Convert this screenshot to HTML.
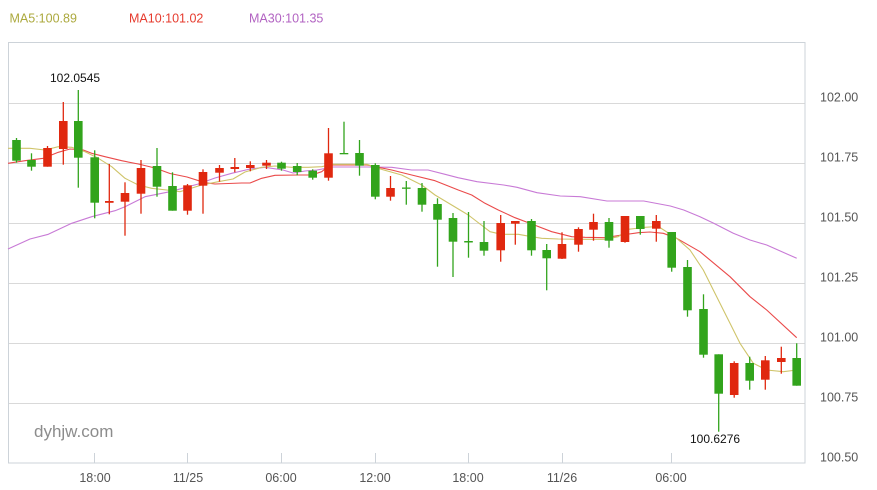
<!DOCTYPE html>
<html><head><meta charset="utf-8"><style>
html,body{margin:0;padding:0;background:#fff;}
svg{display:block;}
text{font-family:"Liberation Sans",sans-serif;}
</style></head><body>
<svg width="877" height="490" viewBox="0 0 877 490" xmlns="http://www.w3.org/2000/svg">
<rect width="877" height="490" fill="#fff"/>
<!-- legend -->
<text x="9.5" y="22.5" font-size="12.5" fill="#aca93e">MA5:100.89</text>
<text x="129" y="22.5" font-size="12.5" fill="#e63b2e">MA10:101.02</text>
<text x="249" y="22.5" font-size="12.5" fill="#b263c2">MA30:101.35</text>
<!-- grid -->
<g stroke="#d9d9d9" stroke-width="1">
<line x1="8.5" y1="103.5" x2="805" y2="103.5"/>
<line x1="8.5" y1="163.5" x2="805" y2="163.5"/>
<line x1="8.5" y1="223.5" x2="805" y2="223.5"/>
<line x1="8.5" y1="283.5" x2="805" y2="283.5"/>
<line x1="8.5" y1="343.5" x2="805" y2="343.5"/>
<line x1="8.5" y1="403.5" x2="805" y2="403.5"/>
</g>
<!-- frame -->
<rect x="8.5" y="42.5" width="796.5" height="420.5" fill="none" stroke="#cdd3d9" stroke-width="1"/>
<!-- x ticks -->
<g stroke="#cdd3d9" stroke-width="1">
<line x1="94.5" y1="453" x2="94.5" y2="463"/>
<line x1="187.5" y1="453" x2="187.5" y2="463"/>
<line x1="281.5" y1="453" x2="281.5" y2="463"/>
<line x1="375.5" y1="453" x2="375.5" y2="463"/>
<line x1="468.5" y1="453" x2="468.5" y2="463"/>
<line x1="562.5" y1="453" x2="562.5" y2="463"/>
<line x1="671.5" y1="453" x2="671.5" y2="463"/>
</g>
<!-- y labels -->
<g font-size="12.5" fill="#555">
<text x="820" y="101.5">102.00</text>
<text x="820" y="161.5">101.75</text>
<text x="820" y="221.5">101.50</text>
<text x="820" y="281.5">101.25</text>
<text x="820" y="341.5">101.00</text>
<text x="820" y="401.5">100.75</text>
<text x="820" y="461.5">100.50</text>
</g>
<!-- x labels -->
<g font-size="12.5" fill="#555" text-anchor="middle">
<text x="95" y="482">18:00</text>
<text x="188" y="482">11/25</text>
<text x="281" y="482">06:00</text>
<text x="375" y="482">12:00</text>
<text x="468" y="482">18:00</text>
<text x="562" y="482">11/26</text>
<text x="671" y="482">06:00</text>
</g>
<!-- watermark -->
<text x="34" y="437" font-size="17" fill="#8c8c8c">dyhjw.com</text>
<!-- MA lines -->
<polyline fill="none" stroke="#c87ad6" stroke-width="1.1" stroke-linejoin="round" points="8,249 30,239 48.3,234.3 71.7,223.3 91.7,216.7 115,210.7 125,206.7 145,196.7 170,191.7 198.3,184 215,178 231.7,173.3 250,169 265,167.3 283,170 293,173 305,171 317,170 333,167 367,167 391.7,167.3 411.7,170 428,170 445,174.3 458,177.7 477,181.7 503.7,185 517,187.3 537,192.7 560.3,196 580.3,196.7 607,201 643.7,201 670.3,206 683.7,210 700,216.7 713.7,223.3 733.3,233.3 750,240 766.7,245 796.7,258.3"/>
<polyline fill="none" stroke="#ea4a4a" stroke-width="1.1" stroke-linejoin="round" points="8,163.3 25,160.7 43.3,158.3 58.3,152.3 70,149 83.3,150 91.7,153.3 105,156.7 121.7,160.7 138.3,164 155,168 170,173.5 187,177 205,182.7 215,184 241.7,183 250,183 261.7,178.3 275,175.3 298,175 311.7,175 321.7,171.7 330,165 367,165 391.7,170 411.7,175 435,180.7 458.3,190 471.7,195 485,203.3 498.3,210 515,217.7 531.7,224 551.7,231.7 571.7,236.7 585,237.3 605,237.7 621.7,235 638.3,232.7 650,232 663.3,233.3 676.7,238.3 700,251.7 730,276.7 750,296.7 766.7,310 796.7,337.7"/>
<polyline fill="none" stroke="#cfc46a" stroke-width="1.1" stroke-linejoin="round" points="8,148.3 30,148.3 45,150 58.3,146.7 71.7,147.3 85,151.7 98.3,158.3 111.7,166.7 125,178.3 138.3,185 151.7,188.3 166.7,190 180,191.7 201.7,185 218.3,181.7 233,179 245,172 261.7,167.3 275,166 291.7,167.3 308.3,167.3 321.7,166.7 333,164.3 367,164.3 378,168.3 401.7,175 421.7,185 435,195 451.7,205 468.3,215 490,231.7 501.7,234.3 518.3,234.3 531.7,236.7 541.7,238.3 558.3,239 585,239.3 605,239.3 618.3,236.7 628.3,229.3 645,227.3 658.3,226.5 676.7,238.3 690,250 703.3,270 716.7,296.7 730,323.3 740,343.3 753.3,363.3 766.7,370 783.3,371.7 796.7,370"/>
<!-- candles -->
<g id="candles">
<!-- template: wick line + body rect -->
<g fill="#32a41c" stroke="#32a41c">
<line x1="16.5" y1="138" x2="16.5" y2="162.7" stroke-width="1.3"/><rect x="12.2" y="140" width="8.6" height="20.7" stroke="none"/>
<line x1="31.5" y1="153.3" x2="31.5" y2="170.7" stroke-width="1.3"/><rect x="27.2" y="160" width="8.6" height="6.7" stroke="none"/>
<line x1="78.3" y1="90" x2="78.3" y2="187.7" stroke-width="1.3"/><rect x="74" y="121" width="8.6" height="36.7" stroke="none"/>
<line x1="94.7" y1="150.3" x2="94.7" y2="218.3" stroke-width="1.3"/><rect x="90.4" y="157.3" width="8.6" height="45.4" stroke="none"/>
<line x1="157" y1="148" x2="157" y2="196.7" stroke-width="1.3"/><rect x="152.7" y="166" width="8.6" height="20.7" stroke="none"/>
<line x1="172.5" y1="172.3" x2="172.5" y2="210.7" stroke-width="1.3"/><rect x="168.2" y="186" width="8.6" height="24.7" stroke="none"/>
<line x1="281.5" y1="161.7" x2="281.5" y2="170.7" stroke-width="1.3"/><rect x="277.2" y="162.7" width="8.6" height="6" stroke="none"/>
<line x1="297.2" y1="163" x2="297.2" y2="175.3" stroke-width="1.3"/><rect x="292.9" y="166" width="8.6" height="6" stroke="none"/>
<line x1="312.7" y1="169.3" x2="312.7" y2="179.7" stroke-width="1.3"/><rect x="308.4" y="170.7" width="8.6" height="7" stroke="none"/>
<line x1="344" y1="121.7" x2="344" y2="154" stroke-width="1.3"/><rect x="339.7" y="153" width="8.6" height="1.3" stroke="none"/>
<line x1="359.5" y1="140" x2="359.5" y2="175.7" stroke-width="1.3"/><rect x="355.2" y="153" width="8.6" height="12.7" stroke="none"/>
<line x1="375.3" y1="163.3" x2="375.3" y2="199.3" stroke-width="1.3"/><rect x="371" y="165" width="8.6" height="31.7" stroke="none"/>
<line x1="406.3" y1="181" x2="406.3" y2="204.7" stroke-width="1.3"/><rect x="402" y="187.5" width="8.6" height="1.3" stroke="none"/>
<line x1="422" y1="183" x2="422" y2="211.7" stroke-width="1.3"/><rect x="417.7" y="188" width="8.6" height="16.7" stroke="none"/>
<line x1="437.5" y1="198.3" x2="437.5" y2="266.7" stroke-width="1.3"/><rect x="433.2" y="204" width="8.6" height="15.7" stroke="none"/>
<line x1="453" y1="213" x2="453" y2="277" stroke-width="1.3"/><rect x="448.7" y="218" width="8.6" height="23.7" stroke="none"/>
<line x1="468.5" y1="212" x2="468.5" y2="257.7" stroke-width="1.3"/><rect x="464.2" y="241" width="8.6" height="1.5" stroke="none"/>
<line x1="484" y1="221" x2="484" y2="255.7" stroke-width="1.3"/><rect x="479.7" y="242" width="8.6" height="8.7" stroke="none"/>
<line x1="531.5" y1="219" x2="531.5" y2="255.7" stroke-width="1.3"/><rect x="527.2" y="221" width="8.6" height="29.3" stroke="none"/>
<line x1="546.7" y1="244" x2="546.7" y2="290.3" stroke-width="1.3"/><rect x="542.4" y="250" width="8.6" height="8.3" stroke="none"/>
<line x1="609" y1="218" x2="609" y2="247.7" stroke-width="1.3"/><rect x="604.7" y="222" width="8.6" height="18.7" stroke="none"/>
<line x1="640.3" y1="216" x2="640.3" y2="234.7" stroke-width="1.3"/><rect x="636" y="216" width="8.6" height="13" stroke="none"/>
<line x1="671.7" y1="232" x2="671.7" y2="271.7" stroke-width="1.3"/><rect x="667.4" y="232" width="8.6" height="35.7" stroke="none"/>
<line x1="687.5" y1="260" x2="687.5" y2="316.7" stroke-width="1.3"/><rect x="683.2" y="267" width="8.6" height="43.3" stroke="none"/>
<line x1="703.5" y1="294.3" x2="703.5" y2="357.7" stroke-width="1.3"/><rect x="699.2" y="309" width="8.6" height="45.7" stroke="none"/>
<line x1="718.7" y1="354.3" x2="718.7" y2="431.7" stroke-width="1.3"/><rect x="714.4" y="354.3" width="8.6" height="39.4" stroke="none"/>
<line x1="749.7" y1="356.7" x2="749.7" y2="389.7" stroke-width="1.3"/><rect x="745.4" y="363" width="8.6" height="17.7" stroke="none"/>
<line x1="796.7" y1="343.3" x2="796.7" y2="385.7" stroke-width="1.3"/><rect x="792.4" y="358" width="8.6" height="27.7" stroke="none"/>
</g>
<g fill="#e0280f" stroke="#e0280f">
<line x1="47.5" y1="146" x2="47.5" y2="166.7" stroke-width="1.3"/><rect x="43.2" y="148" width="8.6" height="18.7" stroke="none"/>
<line x1="63.3" y1="102" x2="63.3" y2="164.7" stroke-width="1.3"/><rect x="59" y="121" width="8.6" height="28" stroke="none"/>
<line x1="109.3" y1="164" x2="109.3" y2="214.3" stroke-width="1.3"/><rect x="105" y="201" width="8.6" height="1.8" stroke="none"/>
<line x1="125" y1="182.3" x2="125" y2="235.7" stroke-width="1.3"/><rect x="120.7" y="193" width="8.6" height="8.7" stroke="none"/>
<line x1="141" y1="160" x2="141" y2="213.7" stroke-width="1.3"/><rect x="136.7" y="168" width="8.6" height="25.7" stroke="none"/>
<line x1="187.5" y1="184" x2="187.5" y2="214.7" stroke-width="1.3"/><rect x="183.2" y="185.3" width="8.6" height="25.4" stroke="none"/>
<line x1="203" y1="169.3" x2="203" y2="213.7" stroke-width="1.3"/><rect x="198.7" y="172" width="8.6" height="13.7" stroke="none"/>
<line x1="219.5" y1="165" x2="219.5" y2="181.7" stroke-width="1.3"/><rect x="215.2" y="168" width="8.6" height="4.7" stroke="none"/>
<line x1="234.8" y1="158" x2="234.8" y2="172.3" stroke-width="1.3"/><rect x="230.5" y="167" width="8.6" height="2" stroke="none"/>
<line x1="250.3" y1="161.3" x2="250.3" y2="171.3" stroke-width="1.3"/><rect x="246" y="165" width="8.6" height="3" stroke="none"/>
<line x1="266.5" y1="160" x2="266.5" y2="169" stroke-width="1.3"/><rect x="262.2" y="162.7" width="8.6" height="3" stroke="none"/>
<line x1="328.5" y1="128" x2="328.5" y2="180.7" stroke-width="1.3"/><rect x="324.2" y="153.3" width="8.6" height="24.4" stroke="none"/>
<line x1="390.5" y1="176" x2="390.5" y2="200.7" stroke-width="1.3"/><rect x="386.2" y="188" width="8.6" height="8.7" stroke="none"/>
<line x1="500.7" y1="215" x2="500.7" y2="261.7" stroke-width="1.3"/><rect x="496.4" y="223" width="8.6" height="27.3" stroke="none"/>
<line x1="515.3" y1="221" x2="515.3" y2="244.7" stroke-width="1.3"/><rect x="511" y="221" width="8.6" height="2.7" stroke="none"/>
<line x1="562" y1="232.3" x2="562" y2="259" stroke-width="1.3"/><rect x="557.7" y="244" width="8.6" height="14.7" stroke="none"/>
<line x1="578.5" y1="227.3" x2="578.5" y2="251.7" stroke-width="1.3"/><rect x="574.2" y="229" width="8.6" height="15.7" stroke="none"/>
<line x1="593.5" y1="213.7" x2="593.5" y2="240.7" stroke-width="1.3"/><rect x="589.2" y="222" width="8.6" height="7.7" stroke="none"/>
<line x1="625" y1="216" x2="625" y2="242.7" stroke-width="1.3"/><rect x="620.7" y="216" width="8.6" height="26" stroke="none"/>
<line x1="656.3" y1="215" x2="656.3" y2="241.7" stroke-width="1.3"/><rect x="652" y="221" width="8.6" height="7.7" stroke="none"/>
<line x1="734.2" y1="361.3" x2="734.2" y2="397.7" stroke-width="1.3"/><rect x="729.9" y="363" width="8.6" height="32" stroke="none"/>
<line x1="765.3" y1="356" x2="765.3" y2="389.7" stroke-width="1.3"/><rect x="761" y="360.3" width="8.6" height="19.4" stroke="none"/>
<line x1="781.3" y1="346.7" x2="781.3" y2="373.7" stroke-width="1.3"/><rect x="777" y="358" width="8.6" height="4" stroke="none"/>
</g>
</g>
<!-- annotations -->
<text x="50" y="82" font-size="12" fill="#111">102.0545</text>
<text x="690" y="443" font-size="12" fill="#111">100.6276</text>
</svg>
</body></html>
